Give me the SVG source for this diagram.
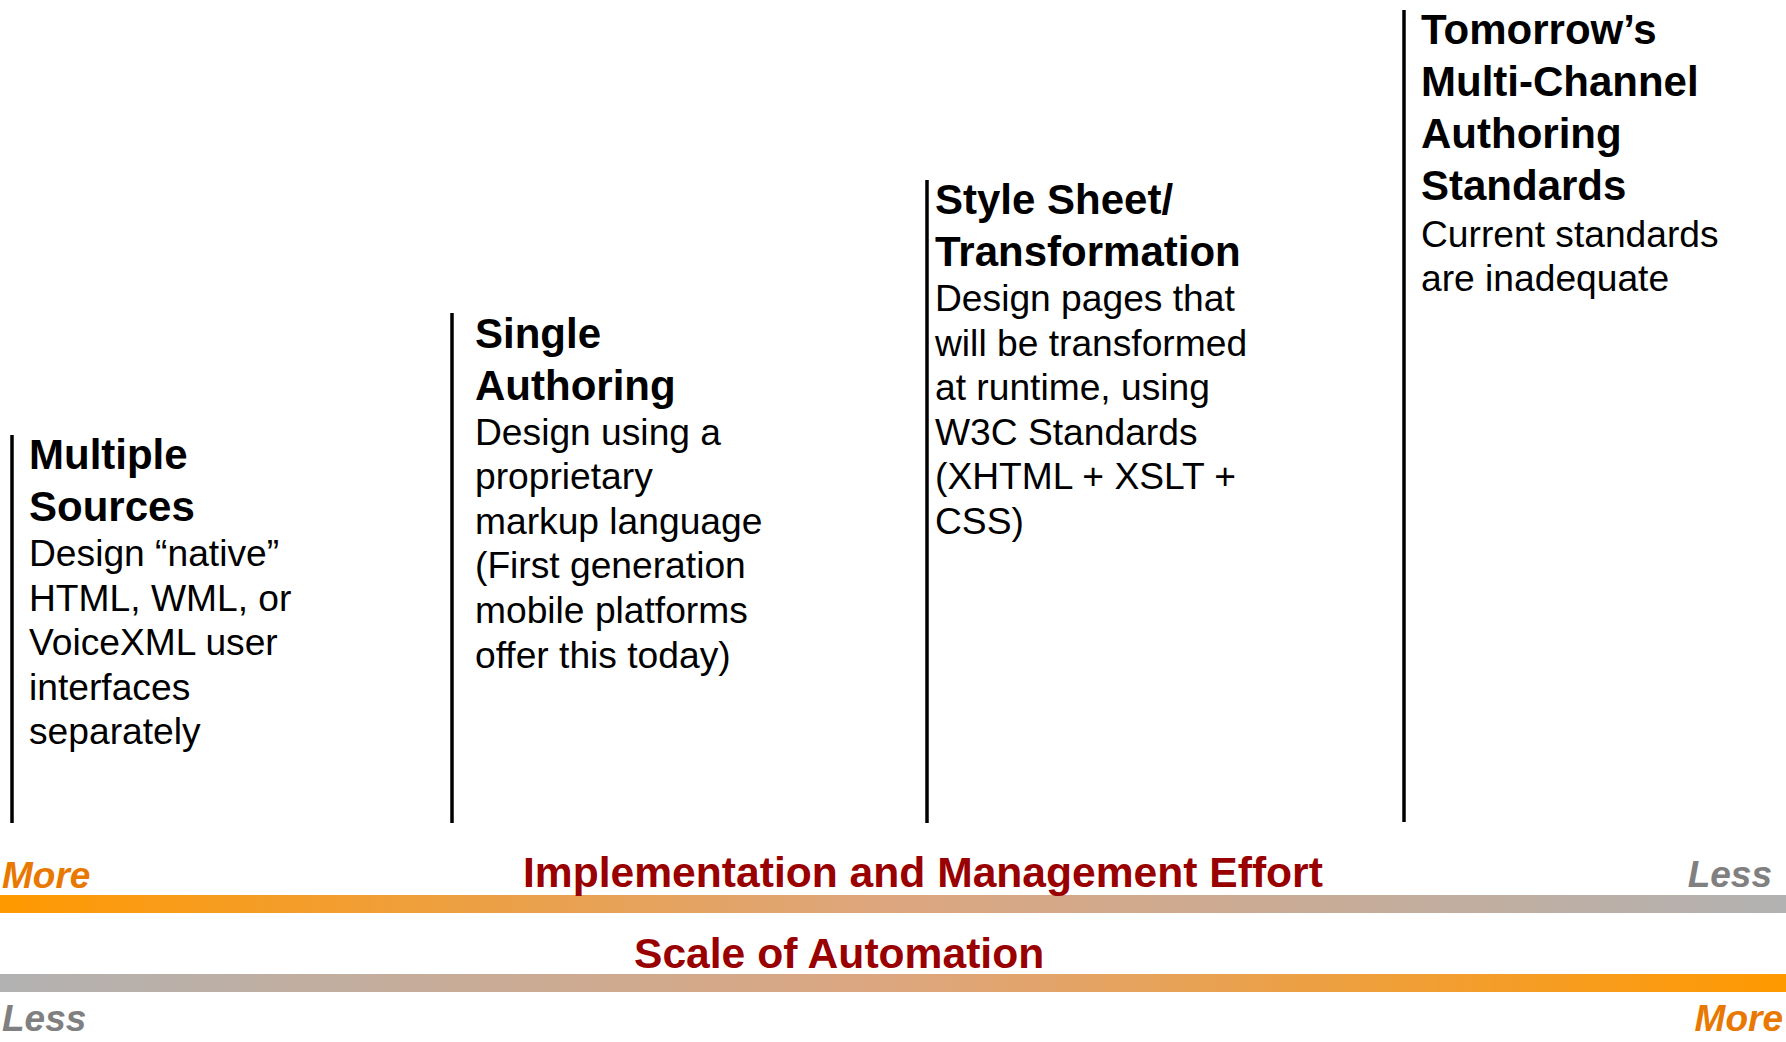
<svg xmlns="http://www.w3.org/2000/svg" width="1786" height="1042" viewBox="0 0 1786 1042">
<style>
text{font-family:"Liberation Sans",Arial,Helvetica,sans-serif;}
.h{font-size:42px;font-weight:bold;fill:#000;}
.b{font-size:37.2px;fill:#000;}
.rule{stroke:#000;stroke-width:3.5;fill:none;}
.axis{font-size:42.6px;font-weight:bold;fill:#990000;}
.more{font-size:37px;font-weight:bold;font-style:italic;fill:#E87800;}
.less{font-size:37px;font-weight:bold;font-style:italic;fill:#808080;}
</style>
<defs>
<linearGradient id="gOrGr" x1="0" y1="0" x2="1" y2="0">
<stop offset="0" stop-color="#FF9900"/>
<stop offset="0.5" stop-color="#DCA67F"/>
<stop offset="1" stop-color="#B2B2B2"/>
</linearGradient>
<linearGradient id="gGrOr" x1="0" y1="0" x2="1" y2="0">
<stop offset="0" stop-color="#B2B2B2"/>
<stop offset="0.5" stop-color="#DCA67F"/>
<stop offset="1" stop-color="#FF9900"/>
</linearGradient>
</defs>
<rect width="1786" height="1042" fill="#fff"/>

<g id="multiple-sources">
<line class="rule" x1="12" y1="435" x2="12" y2="823"/>
<text class="h" x="29" y="469">Multiple</text>
<text class="h" x="29" y="521">Sources</text>
<text class="b" x="29" y="566">Design “native”</text>
<text class="b" x="29" y="610.6">HTML, WML, or</text>
<text class="b" x="29" y="655.2">VoiceXML user</text>
<text class="b" x="29" y="699.8">interfaces</text>
<text class="b" x="29" y="744.4">separately</text>
</g>

<g id="single-authoring">
<line class="rule" x1="452" y1="313" x2="452" y2="823"/>
<text class="h" x="475" y="347.5">Single</text>
<text class="h" x="475" y="399.5">Authoring</text>
<text class="b" x="475" y="444.5">Design using a</text>
<text class="b" x="475" y="489.1">proprietary</text>
<text class="b" x="475" y="533.7">markup language</text>
<text class="b" x="475" y="578.3">(First generation</text>
<text class="b" x="475" y="622.9">mobile platforms</text>
<text class="b" x="475" y="667.5">offer this today)</text>
</g>

<g id="style-sheet-transformation">
<line class="rule" x1="927" y1="180" x2="927" y2="823"/>
<text class="h" x="935" y="214">Style Sheet/</text>
<text class="h" x="935" y="266">Transformation</text>
<text class="b" x="935" y="311">Design pages that</text>
<text class="b" x="935" y="355.6">will be transformed</text>
<text class="b" x="935" y="400.2">at runtime, using</text>
<text class="b" x="935" y="444.8">W3C Standards</text>
<text class="b" x="935" y="489.4">(XHTML + XSLT +</text>
<text class="b" x="935" y="534">CSS)</text>
</g>

<g id="multi-channel-standards">
<line class="rule" x1="1404" y1="10" x2="1404" y2="822"/>
<text class="h" x="1421" y="43.5">Tomorrow’s</text>
<text class="h" x="1421" y="95.5">Multi-Channel</text>
<text class="h" x="1421" y="147.5">Authoring</text>
<text class="h" x="1421" y="199.5">Standards</text>
<text class="b" x="1421" y="246.5">Current standards</text>
<text class="b" x="1421" y="291.1">are inadequate</text>
</g>

<g id="connectors"></g>

<g id="effort-scale">
<rect x="0" y="895" width="1786" height="18" fill="url(#gOrGr)"/>
<text class="more" x="2" y="888">More</text>
<text class="axis" x="523" y="887">Implementation and Management Effort</text>
<text class="less" x="1772" y="887" text-anchor="end">Less</text>
</g>

<g id="automation-scale">
<rect x="0" y="974" width="1786" height="18" fill="url(#gGrOr)"/>
<text class="axis" x="634" y="968">Scale of Automation</text>
<text class="less" x="2" y="1031">Less</text>
<text class="more" x="1783" y="1031" text-anchor="end">More</text>
</g>
</svg>
